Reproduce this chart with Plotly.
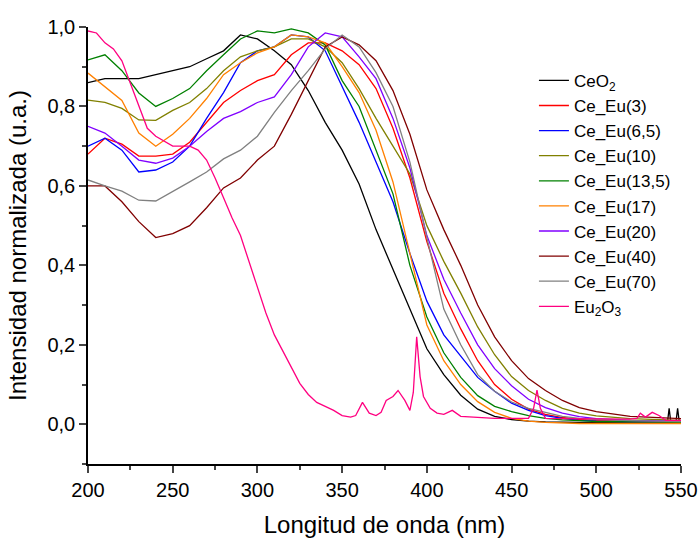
import plotly.graph_objects as go

# Common wavelength grid (nm)
wl = [200, 210, 220, 230, 240, 250, 260, 270, 280, 290, 300, 310, 320, 330, 340, 350,
      360, 370, 380, 390, 400, 410, 420, 430, 440, 450, 460, 470, 480, 490, 500, 520, 550]

wl_ceo2 = wl[:-1] + [530, 540, 542, 543, 544, 546, 547, 548, 549, 550]
ceo2 = [0.86, 0.87, 0.87, 0.87, 0.88, 0.89, 0.90, 0.92, 0.94, 0.98, 0.97, 0.94, 0.905, 0.84, 0.76, 0.69,
        0.605, 0.49, 0.39, 0.29, 0.19, 0.125, 0.073, 0.038, 0.02, 0.012, 0.008, 0.006, 0.005, 0.005, 0.004, 0.004,
        0.004, 0.004, 0.005, 0.04, 0.005, 0.005, 0.005, 0.04, 0.005, 0.005]
ce_eu3 = [0.68, 0.72, 0.705, 0.675, 0.675, 0.68, 0.71, 0.76, 0.81, 0.84, 0.865, 0.88, 0.93, 0.96, 0.96, 0.94,
          0.905, 0.845, 0.745, 0.62, 0.46, 0.33, 0.24, 0.16, 0.10, 0.063, 0.038, 0.025, 0.017, 0.012, 0.01, 0.008, 0.007]
ce_eu65 = [0.70, 0.72, 0.69, 0.635, 0.64, 0.66, 0.70, 0.77, 0.835, 0.91, 0.94, 0.95, 0.98, 0.975, 0.94, 0.85,
           0.76, 0.66, 0.56, 0.43, 0.31, 0.225, 0.17, 0.118, 0.083, 0.053, 0.035, 0.022, 0.015, 0.01, 0.008, 0.006, 0.005]
ce_eu10 = [0.816, 0.81, 0.795, 0.766, 0.765, 0.79, 0.81, 0.845, 0.89, 0.925, 0.94, 0.95, 0.97, 0.97, 0.95, 0.91,
           0.845, 0.77, 0.70, 0.63, 0.50, 0.41, 0.33, 0.245, 0.175, 0.12, 0.085, 0.06, 0.04, 0.028, 0.021, 0.014, 0.01]
ce_eu135 = [0.917, 0.93, 0.89, 0.834, 0.80, 0.82, 0.845, 0.89, 0.93, 0.97, 0.99, 0.985, 0.995, 0.985, 0.955, 0.865,
            0.80, 0.69, 0.58, 0.40, 0.27, 0.18, 0.118, 0.072, 0.045, 0.032, 0.022, 0.015, 0.011, 0.009, 0.007, 0.006, 0.005]
ce_eu17 = [0.884, 0.85, 0.815, 0.733, 0.70, 0.73, 0.77, 0.82, 0.88, 0.91, 0.935, 0.95, 0.98, 0.975, 0.96, 0.90,
           0.835, 0.74, 0.61, 0.43, 0.25, 0.16, 0.10, 0.057, 0.03, 0.015, 0.008, 0.005, 0.003, 0.002, 0.002, 0.002, 0.002]
ce_eu20 = [0.75, 0.733, 0.70, 0.665, 0.657, 0.67, 0.70, 0.737, 0.77, 0.787, 0.81, 0.824, 0.88, 0.95, 0.985, 0.975,
           0.925, 0.87, 0.77, 0.645, 0.475, 0.365, 0.28, 0.20, 0.14, 0.097, 0.063, 0.042, 0.028, 0.019, 0.014, 0.01, 0.008]
ce_eu40 = [0.60, 0.60, 0.56, 0.51, 0.47, 0.48, 0.50, 0.545, 0.595, 0.62, 0.665, 0.70, 0.78, 0.867, 0.95, 0.975,
           0.955, 0.915, 0.84, 0.73, 0.59, 0.49, 0.40, 0.30, 0.22, 0.16, 0.115, 0.085, 0.06, 0.042, 0.032, 0.02, 0.014]
ce_eu70 = [0.615, 0.60, 0.587, 0.564, 0.562, 0.585, 0.61, 0.635, 0.668, 0.69, 0.725, 0.785, 0.84, 0.89, 0.945, 0.98,
           0.95, 0.885, 0.80, 0.66, 0.47, 0.29, 0.20, 0.125, 0.083, 0.056, 0.04, 0.03, 0.02, 0.015, 0.012, 0.009, 0.007]

wl_eu2o3 = [200, 205, 210, 215, 220, 225, 230, 235, 240, 250, 260, 265, 270, 275, 280, 285, 290, 295, 300, 305,
            310, 315, 320, 325, 330, 335, 340, 345, 350, 355, 358, 362, 366, 370, 373, 376, 380, 383, 387, 390,
            392, 394, 396, 398, 402, 406, 410, 415, 420, 430, 440, 450, 460, 463, 465, 467, 470, 480, 500, 520,
            524, 526, 529, 533, 537, 541, 550]
eu2o3 = [0.99, 0.985, 0.96, 0.945, 0.915, 0.86, 0.80, 0.745, 0.725, 0.70, 0.70, 0.69, 0.665, 0.62, 0.57, 0.52,
         0.475, 0.41, 0.345, 0.28, 0.225, 0.185, 0.145, 0.103, 0.075, 0.055, 0.045, 0.035, 0.022, 0.018, 0.022,
         0.055, 0.028, 0.022, 0.03, 0.06, 0.07, 0.085, 0.06, 0.035, 0.08, 0.22, 0.12, 0.07, 0.04, 0.028, 0.025,
         0.035, 0.02, 0.017, 0.015, 0.015, 0.015, 0.04, 0.086, 0.04, 0.015, 0.014, 0.013, 0.013, 0.015, 0.028,
         0.018, 0.03, 0.022, 0.01, 0.01]

names = ["CeO<sub>2</sub>", "Ce_Eu(3)", "Ce_Eu(6,5)", "Ce_Eu(10)", "Ce_Eu(13,5)", "Ce_Eu(17)",
         "Ce_Eu(20)", "Ce_Eu(40)", "Ce_Eu(70)", "Eu<sub>2</sub>O<sub>3</sub>"]
colors = ["#000000", "#FF0000", "#0000FF", "#808000", "#008000", "#FF8000",
          "#8000FF", "#800000", "#808080", "#FF0080"]
xs = [wl_ceo2, wl, wl, wl, wl, wl, wl, wl, wl, wl_eu2o3]
ys = [ceo2, ce_eu3, ce_eu65, ce_eu10, ce_eu135, ce_eu17, ce_eu20, ce_eu40, ce_eu70, eu2o3]

y_ticks = [0.0, 0.2, 0.4, 0.6, 0.8, 1.0]
y_ticklabels = ["0,0", "0,2", "0,4", "0,6", "0,8", "1,0"]
x_ticks = [200, 250, 300, 350, 400, 450, 500, 550]

fig = go.Figure()
for x, y, n, c in zip(xs, ys, names, colors):
    fig.add_trace(go.Scatter(x=x, y=y, mode="lines", name=n,
                             line=dict(color=c, width=1.3)))

font = "Liberation Sans, Arial, sans-serif"
fig.update_layout(
    width=698, height=539,
    margin=dict(l=88, r=17, t=27, b=75),
    paper_bgcolor="white", plot_bgcolor="white",
    font=dict(family=font, color="black"),
    showlegend=True,
    legend=dict(x=0.752, y=0.918, xanchor="left", yanchor="top",
                bgcolor="rgba(0,0,0,0)", font=dict(size=17, family=font),
                tracegroupgap=0),
    xaxis=dict(range=[200, 550], tickvals=x_ticks, ticks="outside", ticklen=7, tickwidth=1.5,
               showline=True, linecolor="black", linewidth=1.5, showgrid=False, zeroline=False,
               automargin=False,
               tickfont=dict(size=20), minor=dict(dtick=25, ticks="outside", ticklen=4, tickwidth=1.5),
               title=dict(text="Longitud de onda (nm)", font=dict(size=24), standoff=16)),
    yaxis=dict(range=[-0.1, 1.0], tickvals=y_ticks, ticktext=y_ticklabels, ticks="outside", ticklen=7,
               tickwidth=1.5, showline=True, linecolor="black", linewidth=1.5, showgrid=False, zeroline=False,
               automargin=False,
               tickfont=dict(size=20), minor=dict(dtick=0.1, tick0=0, ticks="outside", ticklen=4, tickwidth=1.5),
               title=dict(text="Intensidad normalizada (u.a.)", font=dict(size=24), standoff=14)),
)

fig.write_html("out.html")
